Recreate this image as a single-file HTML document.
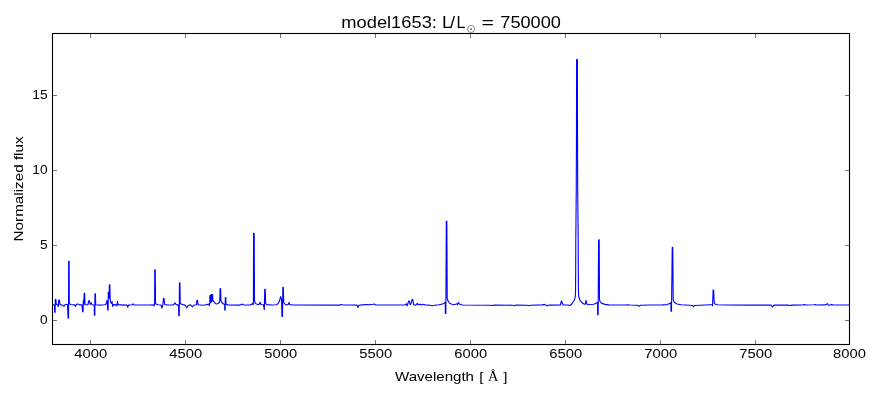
<!DOCTYPE html>
<html lang="en">
<head>
<meta charset="utf-8">
<title>model1653: L/L&#9737; = 750000</title>
<style>
html,body{margin:0;padding:0;background:#ffffff;}
body{width:880px;height:400px;overflow:hidden;font-family:"Liberation Sans",sans-serif;}
svg{display:block;}
svg text{font-family:"Liberation Sans",sans-serif;fill:#000;}
.txt{filter:grayscale(1);}
</style>
</head>
<body>
<svg width="880" height="400" viewBox="0 0 880 400">
<rect x="0" y="0" width="880" height="400" fill="#ffffff"/>
<path d="M90.50 344.50v-4.44M90.50 33.50v4.44M185.50 344.50v-4.44M185.50 33.50v4.44M280.50 344.50v-4.44M280.50 33.50v4.44M375.50 344.50v-4.44M375.50 33.50v4.44M470.50 344.50v-4.44M470.50 33.50v4.44M565.50 344.50v-4.44M565.50 33.50v4.44M660.50 344.50v-4.44M660.50 33.50v4.44M755.50 344.50v-4.44M755.50 33.50v4.44M849.50 344.50v-4.44M849.50 33.50v4.44M52.50 320.50h4.44M849.50 320.50h-4.44M52.50 245.50h4.44M849.50 245.50h-4.44M52.50 170.50h4.44M849.50 170.50h-4.44M52.50 95.50h4.44M849.50 95.50h-4.44" stroke="#000" stroke-width="0.56" fill="none"/>
<polyline points="52.50,304.90 54.60,305.10 54.65,312.20 55.15,312.20 55.30,299.30 55.90,299.50 56.30,304.30 57.50,304.80 58.30,306.60 58.70,300.10 59.50,300.10 59.90,304.50 61.00,304.90 63.00,305.30 64.00,306.30 65.00,304.80 66.50,304.30 67.50,304.80 68.05,318.10 68.55,318.10 68.65,261.20 69.15,261.20 69.30,303.30 70.50,304.50 74.50,304.90 75.50,306.50 76.20,304.30 78.50,304.10 79.50,304.90 82.00,304.80 82.55,311.80 83.05,311.80 83.40,300.30 83.80,304.30 84.15,293.20 84.65,293.20 85.00,304.30 85.50,304.80 88.00,304.60 88.60,300.90 89.50,300.90 90.00,304.30 91.00,303.30 91.30,302.80 92.00,304.80 94.30,305.00 94.35,315.30 94.85,315.30 94.95,293.90 95.45,293.90 95.70,304.80 100.00,305.10 105.00,304.80 106.30,303.80 106.90,300.30 107.40,303.30 107.65,309.90 108.15,309.90 108.25,292.20 108.75,292.20 108.75,298.30 109.25,298.30 109.35,284.80 109.85,284.80 110.20,300.30 111.00,302.80 111.60,303.30 112.10,301.50 112.60,306.50 113.20,304.60 116.50,304.90 116.90,305.90 117.50,301.30 118.00,304.80 120.00,304.90 127.00,305.10 127.75,307.20 128.50,305.10 132.00,304.80 133.10,303.80 134.00,304.90 150.00,305.00 153.50,304.80 154.10,305.90 154.60,304.30 154.75,269.90 155.25,269.90 155.50,303.30 156.50,304.30 158.00,304.80 161.00,305.00 161.90,308.00 162.80,305.30 163.50,298.40 164.00,298.40 164.70,304.50 167.00,304.90 173.00,305.00 174.50,303.80 175.00,302.80 175.80,304.30 177.00,304.90 178.60,304.80 178.75,315.70 179.25,315.70 179.45,282.70 179.95,282.70 180.20,303.30 181.50,304.30 185.00,305.10 186.90,307.80 188.00,305.80 190.00,304.70 191.50,305.80 192.50,306.80 193.50,305.30 196.50,304.80 196.90,300.30 197.60,300.30 198.00,304.80 203.00,305.30 206.00,304.70 208.00,304.40 209.00,303.90 209.40,305.80 209.80,303.30 209.85,295.60 210.35,295.60 210.20,302.80 210.70,302.80 210.55,295.40 211.05,295.40 210.90,301.80 211.40,301.80 211.25,294.50 211.75,294.50 211.60,301.30 212.10,301.30 212.20,294.50 212.60,294.70 212.95,300.70 213.50,301.30 214.30,302.20 215.30,303.50 216.60,304.00 218.20,303.50 219.20,302.50 219.80,300.90 220.10,288.55 220.60,288.55 220.95,300.90 221.80,302.50 223.10,303.80 224.40,304.40 224.70,304.50 224.70,310.05 225.20,310.05 225.30,297.60 225.80,297.60 226.05,304.30 228.00,304.90 240.00,305.10 242.50,304.10 243.50,305.00 250.00,304.90 251.00,304.70 252.00,304.10 252.60,303.50 253.20,304.80 253.40,300.30 253.60,233.30 254.20,233.30 254.50,300.30 255.00,302.80 256.00,303.60 257.50,304.60 259.00,304.50 260.00,302.20 261.00,304.50 263.50,304.80 264.30,309.70 264.75,289.30 265.25,289.30 265.60,303.80 267.00,304.60 272.00,305.00 276.00,304.80 278.00,303.80 279.50,300.80 280.60,296.55 281.50,299.30 282.00,316.55 282.50,316.55 282.85,287.20 283.35,287.20 283.70,302.30 285.00,304.30 287.00,305.10 288.30,304.30 289.00,302.55 289.70,304.50 292.00,304.90 340.00,305.10 341.25,304.40 343.00,305.00 350.00,305.00 357.00,305.10 357.90,307.55 358.80,305.30 362.00,304.90 366.00,304.50 370.00,304.80 373.00,304.30 374.40,304.00 375.50,304.90 400.00,305.00 405.00,304.90 406.20,303.80 407.10,305.90 407.80,303.80 408.75,300.90 409.50,301.30 410.00,304.70 411.00,303.80 412.10,299.30 412.80,299.80 413.70,304.70 415.00,305.30 416.50,304.60 417.25,303.40 418.20,304.60 420.00,304.30 421.50,304.90 423.00,304.30 425.00,304.90 430.00,305.30 432.50,305.70 435.00,305.30 439.00,304.70 442.50,304.00 444.40,303.00 445.30,302.30 445.35,313.40 445.85,313.40 446.35,221.20 446.85,221.20 447.20,298.30 448.00,300.80 449.00,302.50 450.00,303.60 452.00,304.30 453.50,304.70 455.50,304.30 456.90,303.80 457.50,304.60 458.50,302.55 459.30,303.90 460.50,304.50 462.50,305.00 490.00,305.20 492.50,305.50 494.00,305.10 513.00,305.20 514.40,305.70 516.00,305.10 527.00,305.30 528.75,305.80 530.50,305.20 542.00,304.90 544.40,304.40 545.50,304.90 546.90,305.90 548.00,305.30 550.00,305.10 560.30,305.00 561.00,302.30 561.50,300.90 562.20,302.80 562.90,304.90 568.00,305.00 570.00,305.50 571.00,304.80 572.50,302.80 574.40,300.05 575.10,297.60 575.45,294.30 575.55,290.30 575.70,270.30 575.80,240.30 576.25,190.30 576.50,130.30 576.60,59.60 577.40,59.60 577.50,130.30 577.70,190.30 578.20,240.30 578.30,270.30 578.45,290.30 578.55,294.30 578.90,297.30 580.00,300.30 582.50,303.05 584.40,304.30 585.20,304.30 586.00,300.30 586.60,303.30 587.50,304.70 593.75,304.30 595.50,303.50 596.90,302.80 597.50,302.30 597.65,314.70 598.15,314.70 598.60,239.90 599.20,239.90 599.50,299.30 600.00,301.55 601.90,303.40 605.00,304.40 608.75,304.90 626.00,305.00 628.00,304.70 630.00,305.00 637.50,305.30 639.00,306.20 640.50,305.30 650.00,305.00 662.50,304.90 666.25,304.70 668.50,303.90 670.00,303.40 670.90,302.80 671.00,311.20 671.50,311.20 672.25,247.30 672.75,247.30 673.20,300.30 674.40,302.20 676.90,304.05 681.25,304.70 690.00,305.20 692.50,305.50 693.40,306.80 694.30,305.50 700.00,305.20 710.00,304.80 712.00,304.70 712.50,305.90 713.15,290.05 713.65,290.05 714.20,302.80 715.00,304.05 717.50,304.80 725.00,305.00 750.00,305.10 771.00,305.10 772.50,306.80 774.00,305.10 788.00,305.10 790.00,305.50 792.00,305.10 803.00,304.90 804.40,304.50 806.00,305.00 814.00,304.80 815.00,304.40 816.50,305.00 825.50,304.90 827.25,303.70 828.50,305.10 829.50,305.20 831.90,304.40 833.00,305.00 849.50,305.00" fill="none" stroke="#0000ff" stroke-width="1.11" stroke-linejoin="round"/>
<rect x="52.5" y="33.5" width="797.0" height="311.0" fill="none" stroke="#000" stroke-width="1.11"/>
<g class="txt">
<text x="90.70" y="358.30" font-size="12.30" text-anchor="middle" textLength="32.80" lengthAdjust="spacingAndGlyphs">4000</text>
<text x="185.70" y="358.30" font-size="12.30" text-anchor="middle" textLength="32.80" lengthAdjust="spacingAndGlyphs">4500</text>
<text x="280.70" y="358.30" font-size="12.30" text-anchor="middle" textLength="32.80" lengthAdjust="spacingAndGlyphs">5000</text>
<text x="375.70" y="358.30" font-size="12.30" text-anchor="middle" textLength="32.80" lengthAdjust="spacingAndGlyphs">5500</text>
<text x="470.70" y="358.30" font-size="12.30" text-anchor="middle" textLength="32.80" lengthAdjust="spacingAndGlyphs">6000</text>
<text x="565.70" y="358.30" font-size="12.30" text-anchor="middle" textLength="32.80" lengthAdjust="spacingAndGlyphs">6500</text>
<text x="660.70" y="358.30" font-size="12.30" text-anchor="middle" textLength="32.80" lengthAdjust="spacingAndGlyphs">7000</text>
<text x="755.70" y="358.30" font-size="12.30" text-anchor="middle" textLength="32.80" lengthAdjust="spacingAndGlyphs">7500</text>
<text x="849.50" y="358.30" font-size="12.30" text-anchor="middle" textLength="32.80" lengthAdjust="spacingAndGlyphs">8000</text>
<text x="47.60" y="323.90" font-size="12.30" text-anchor="end" textLength="7.65" lengthAdjust="spacingAndGlyphs">0</text>
<text x="47.60" y="248.90" font-size="12.30" text-anchor="end" textLength="7.65" lengthAdjust="spacingAndGlyphs">5</text>
<text x="47.60" y="173.90" font-size="12.30" text-anchor="end" textLength="15.30" lengthAdjust="spacingAndGlyphs">10</text>
<text x="47.60" y="98.90" font-size="12.30" text-anchor="end" textLength="15.30" lengthAdjust="spacingAndGlyphs">15</text>
<text x="395.00" y="381.00" font-size="13.20" text-anchor="start" textLength="79.00" lengthAdjust="spacingAndGlyphs">Wavelength</text>
<text x="479.30" y="381.00" font-size="13.20" text-anchor="start" textLength="4.20" lengthAdjust="spacingAndGlyphs">[</text>
<text x="487.9" y="381.0" font-size="13.6" style="font-family:'Liberation Serif',serif" textLength="10.4" lengthAdjust="spacingAndGlyphs">&#197;</text>
<text x="503.20" y="381.00" font-size="13.20" text-anchor="start" textLength="4.20" lengthAdjust="spacingAndGlyphs">]</text>
<g transform="translate(22.9 241.4) rotate(-90)"><text x="0.00" y="0.00" font-size="13.20" text-anchor="start" textLength="105.00" lengthAdjust="spacingAndGlyphs">Normalized flux</text></g>
<text x="341.30" y="28.10" font-size="15.60" text-anchor="start" textLength="95.60" lengthAdjust="spacingAndGlyphs">model1653:</text>
<text x="441.90" y="28.10" font-size="15.60" text-anchor="start" textLength="10.15" lengthAdjust="spacingAndGlyphs">L</text>
<text x="449.90" y="28.10" font-size="15.60" text-anchor="start" textLength="5.10" lengthAdjust="spacingAndGlyphs">/</text>
<text x="456.60" y="28.10" font-size="15.60" text-anchor="start" textLength="8.90" lengthAdjust="spacingAndGlyphs">L</text>
<circle cx="471.1" cy="29.0" r="3.5" fill="none" stroke="#000" stroke-width="0.45"/><circle cx="471.1" cy="29.0" r="0.75" fill="#000"/>
<text x="481.60" y="28.10" font-size="15.60" text-anchor="start" textLength="12.40" lengthAdjust="spacingAndGlyphs">=</text>
<text x="500.30" y="28.10" font-size="15.60" text-anchor="start" textLength="60.60" lengthAdjust="spacingAndGlyphs">750000</text>
</g>
</svg>
</body>
</html>
